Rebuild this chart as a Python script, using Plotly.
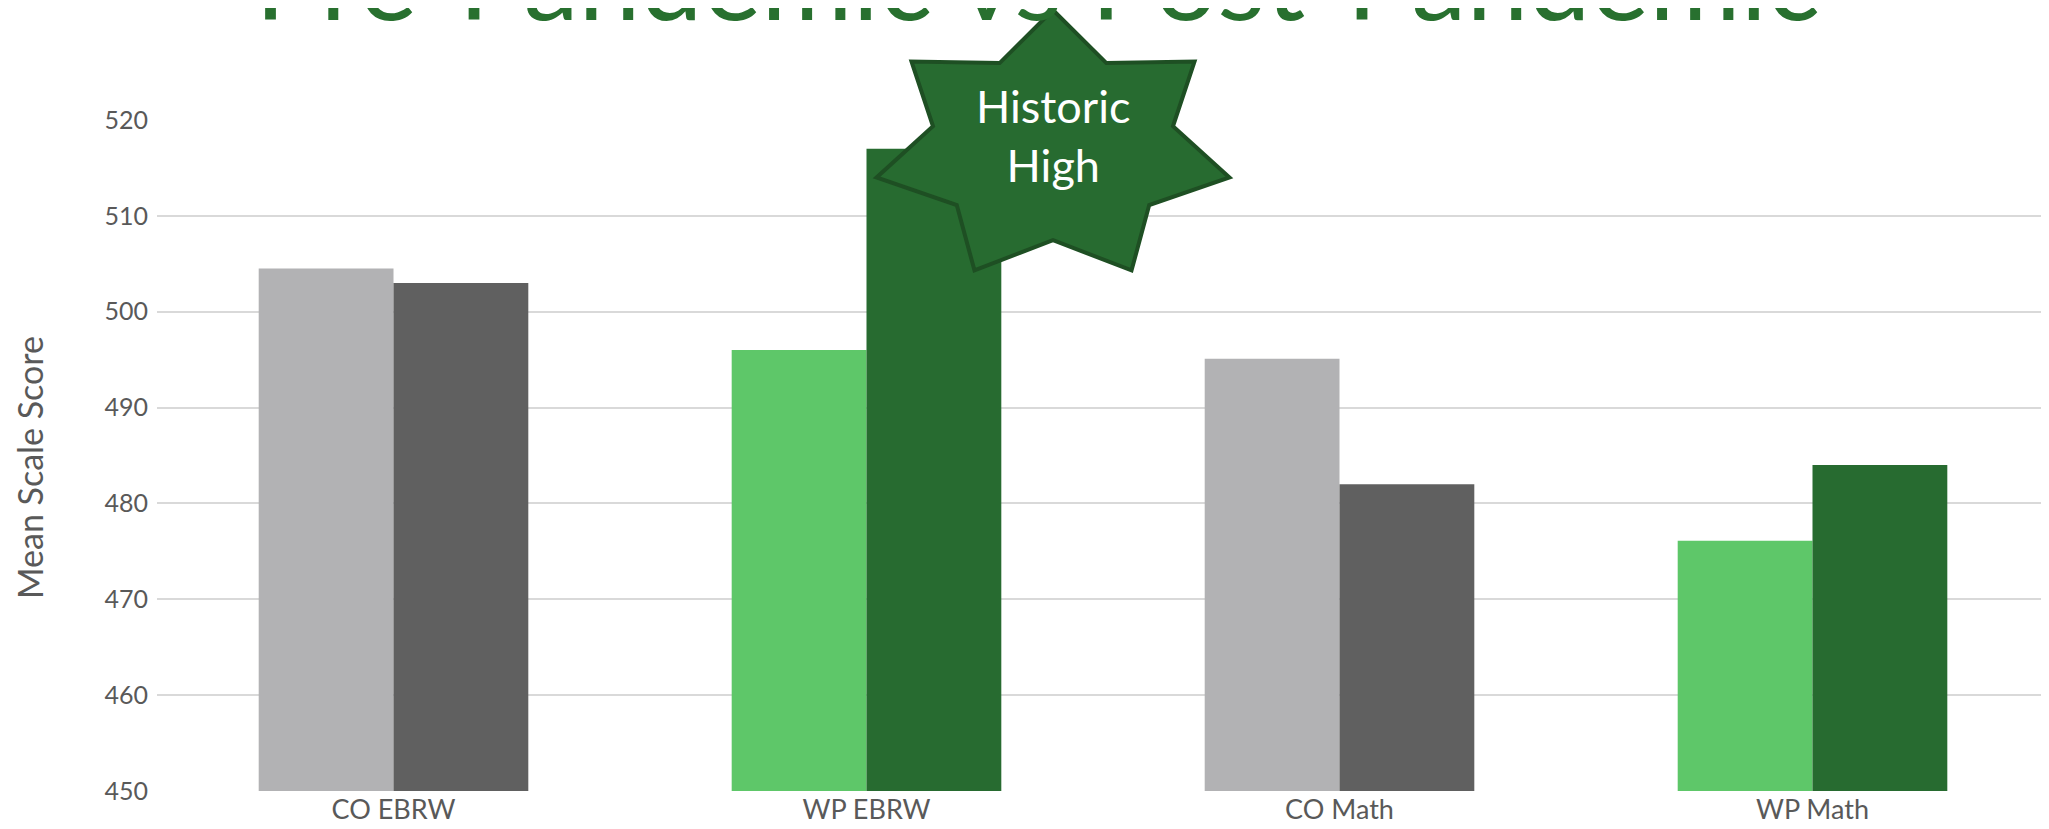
import math
import plotly.graph_objects as go

# Data
categories = ["CO EBRW", "WP EBRW", "CO Math", "WP Math"]
pre_scores = [504.5, 496.0, 495.1, 476.1]
post_scores = [503.0, 517.0, 482.0, 484.0]
pre_colors = ["#b2b2b4", "#5ec769", "#b2b2b4", "#5ec769"]
post_colors = ["#606060", "#276b30", "#606060", "#276b30"]
y_ticks = [450, 460, 470, 480, 490, 500, 510, 520]

FONT = "Lato"
OFF = 8  # page body margin around the plot div
W, H = 2049 - OFF, 829 - OFF
M_L, M_R, M_T, M_B = 149, 0, 112, 38
PLOT_W = W - M_L - M_R
PLOT_H = H - M_T - M_B


def px_to_paper(px, py):
    # page pixel -> paper coordinates
    px, py = px - OFF, py - OFF
    return (px - M_L) / PLOT_W, (H - M_B - py) / PLOT_H


def star_path(cx, cy, rx, ry, points=7, inner=0.68):
    # callout star drawn in page pixels, converted to paper coords
    parts = []
    for i in range(points * 2):
        ang = math.pi / 2 + i * math.pi / points
        k = 1.0 if i % 2 == 0 else inner
        x, y = px_to_paper(cx + rx * k * math.cos(ang), cy - ry * k * math.sin(ang))
        parts.append(("M" if i == 0 else "L") + f"{x:.5f},{y:.5f}")
    return " ".join(parts) + " Z"


fig = go.Figure()

fig.add_trace(go.Bar(
    x=categories, y=pre_scores, name="Pre-Pandemic",
    marker=dict(color=pre_colors, line=dict(width=0)),
))
fig.add_trace(go.Bar(
    x=categories, y=post_scores, name="Post-Pandemic",
    marker=dict(color=post_colors, line=dict(width=0)),
))

# "Historic High" star
fig.add_shape(
    type="path", xref="paper", yref="paper",
    path=star_path(1053, 147, 181, 137),
    fillcolor="#276b30", line=dict(color="#1e4f23", width=4),
    layer="above",
)
sx, sy = px_to_paper(1053, 136)
fig.add_annotation(
    x=sx, y=sy, xref="paper", yref="paper", showarrow=False,
    text="Historic<br>High", font=dict(family=FONT, size=45, color="white"),
    xanchor="center", yanchor="middle",
)

# Title, mostly cut off at the top edge
tx, ty = px_to_paper(1037, -23)
fig.add_annotation(
    x=tx, y=ty, xref="paper", yref="paper", showarrow=False,
    text="Pre-Pandemic vs Post-Pandemic",
    font=dict(family=FONT, size=111, color="#28702f"),
    xanchor="center", yanchor="middle",
)

# y axis title, sits a little below the plot's middle
ax, ay = px_to_paper(29, 468)
fig.add_annotation(
    x=ax, y=ay, xref="paper", yref="paper", showarrow=False,
    text="Mean Scale Score", textangle=-90,
    font=dict(family=FONT, size=34, color="#595959"),
    xanchor="center", yanchor="middle",
)

fig.update_layout(
    width=W, height=H,
    barmode="group", bargap=0.43, bargroupgap=0,
    showlegend=False,
    plot_bgcolor="white", paper_bgcolor="white",
    font=dict(family=FONT, color="#595959"),
    margin=dict(l=M_L, r=M_R, t=M_T, b=M_B),
    xaxis=dict(tickfont=dict(size=27), showgrid=False, showline=False, ticks=""),
    yaxis=dict(
        range=[450, 520], tickvals=y_ticks, tickfont=dict(size=25),
        showgrid=True, gridcolor="#d9d9d9", gridwidth=2, zeroline=False,
        ticklabelstandoff=8,
    ),
)

fig.write_html("out.html")
